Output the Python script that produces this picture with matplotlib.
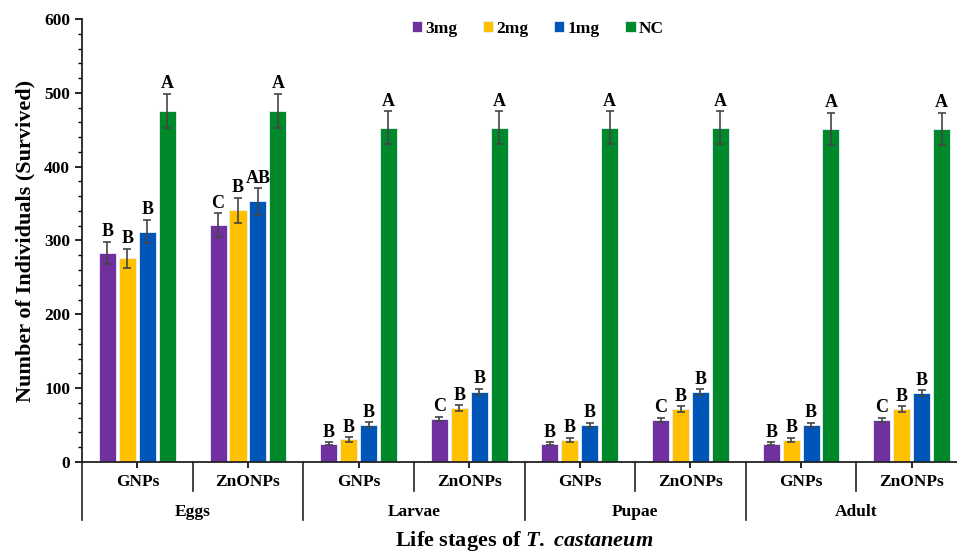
import numpy as np
import matplotlib
matplotlib.use('Agg')
import matplotlib.pyplot as plt
from matplotlib.lines import Line2D
import matplotlib.transforms as mtransforms

plt.rcParams['font.family'] = 'Liberation Serif'
plt.rcParams['font.weight'] = 'bold'
plt.rcParams['mathtext.fontset'] = 'custom'
plt.rcParams['mathtext.it'] = 'Liberation Serif:bold:italic'
plt.rcParams['mathtext.rm'] = 'Liberation Serif:bold'

# Survival counts per life stage / nanoparticle group
stages = ['Eggs', 'Larvae', 'Pupae', 'Adult']
particles = ['GNPs', 'ZnONPs']
doses = ['3mg', '2mg', '1mg', 'NC']

mean_3mg = [283, 321, 24.5, 58.5, 24.8, 57, 24.5, 57]
mean_2mg = [276, 341, 30.5, 72.5, 30, 71.5, 30, 71.5]
mean_1mg = [312, 353, 50.5, 95, 50, 94.5, 50, 93.5]
mean_nc = [476, 476, 453, 453, 453, 453, 451, 451]

err_3mg = [15, 16, 2, 3, 2, 3, 2, 3]
err_2mg = [13, 17, 3, 4, 3, 4, 3, 4]
err_1mg = [16, 18, 3, 4, 3, 4, 3, 4]
err_nc = [23, 23, 22, 22, 22, 22, 22, 22]

let_3mg = ['B', 'C', 'B', 'C', 'B', 'C', 'B', 'C']
let_2mg = ['B', 'B', 'B', 'B', 'B', 'B', 'B', 'B']
let_1mg = ['B', 'AB', 'B', 'B', 'B', 'B', 'B', 'B']
let_nc = ['A', 'A', 'A', 'A', 'A', 'A', 'A', 'A']

colors = ['#7030a0', '#ffc000', '#0056b8', '#00892a']

series = [(mean_3mg, err_3mg, let_3mg), (mean_2mg, err_2mg, let_2mg),
          (mean_1mg, err_1mg, let_1mg), (mean_nc, err_nc, let_nc)]

fig = plt.figure(figsize=(9.57, 5.53), dpi=100)
ax = fig.add_axes([0.0857, 0.1646, 0.9248, 0.801])

x = np.arange(len(mean_3mg))
width = 0.154
offsets = [-0.27, -0.09, 0.09, 0.27]

for (vals, errs, lets), off, col, lab in zip(series, offsets, colors, doses):
    ax.bar(x + off, vals, width, color=col, edgecolor='#e8f0ff', linewidth=0.6,
           label=lab, zorder=2)
    ax.errorbar(x + off, vals, yerr=errs, fmt='none', ecolor='#454545',
                elinewidth=1.2, capsize=3, capthick=1.2, zorder=3)
    for xi, v, e, t in zip(x + off, vals, errs, lets):
        ax.text(xi, v + e + 2, t, ha='center', va='bottom', fontsize=13,
                fontweight='bold')

ax.set_xlim(-0.5, 7.5)
ax.set_ylim(0, 600)
ax.set_yticks(np.arange(0, 601, 100))
ax.set_yticks(np.arange(0, 601, 20), minor=True)
ax.tick_params(axis='y', which='major', length=5, width=1.2, labelsize=12.5)
ax.tick_params(axis='y', which='minor', length=3, width=1)
ax.set_xticks(x)
ax.set_xticklabels([])
ax.tick_params(axis='x', length=4, width=1.2)
for lbl in ax.get_yticklabels():
    lbl.set_fontweight('bold')

for s in ['top', 'right']:
    ax.spines[s].set_visible(False)
for s in ['left', 'bottom']:
    ax.spines[s].set_linewidth(1.3)
    ax.spines[s].set_color('#222222')

# Two-level category axis below the plot
trans = mtransforms.blended_transform_factory(ax.transData, ax.transAxes)
for i in range(len(x)):
    ax.text(i, -0.045, particles[i % 2], transform=trans, ha='center',
            va='center', fontsize=12.5, fontweight='bold')
for j, st in enumerate(stages):
    ax.text(2 * j + 0.5, -0.113, st, transform=trans, ha='center',
            va='center', fontsize=12.5, fontweight='bold')
for j in range(len(stages)):
    ax.add_line(Line2D([2 * j + 0.5] * 2, [0, -0.0655], transform=trans,
                       color='#222222', lw=1.2, clip_on=False))
    ax.add_line(Line2D([2 * j - 0.5] * 2, [0, -0.131], transform=trans,
                       color='#222222', lw=1.2, clip_on=False))

ax.text(0.5, -0.178, r'Life stages of $T.$ $castaneum$', transform=ax.transAxes,
        ha='center', va='center', fontsize=16, fontweight='bold')
ax.set_ylabel('Number of Individuals (Survived)', fontsize=16,
              fontweight='bold', labelpad=6)

fig.legend(loc='center', bbox_to_anchor=(0.562, 0.948), ncol=4, frameon=False,
           handlelength=0.6, handleheight=0.6, handletextpad=0.2,
           columnspacing=1.45, prop={'size': 12.5, 'weight': 'bold'})

fig.savefig('out.png', dpi=100)
